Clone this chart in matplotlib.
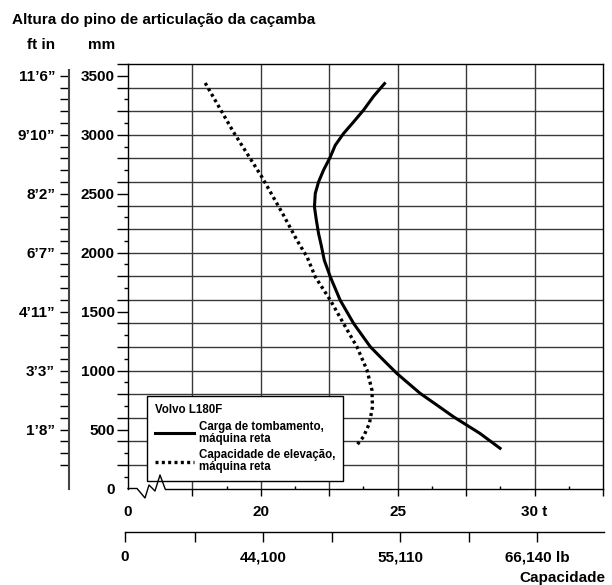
import matplotlib
matplotlib.use("Agg")
import matplotlib.pyplot as plt
from matplotlib.lines import Line2D

# Chart data
tipping_t = [24.52, 24.12, 23.75, 23.39, 23.02, 22.72, 22.54, 22.29, 22.11, 21.99,
             21.96, 22.03, 22.11, 22.21, 22.32, 22.54, 22.90, 23.39, 24.00, 24.48,
             24.97, 25.82, 26.43, 27.04, 28.00, 28.74]
tipping_mm = [3434, 3326, 3208, 3109, 3010, 2911, 2812, 2699, 2600, 2502,
              2388, 2275, 2163, 2060, 1936, 1795, 1597, 1400, 1202, 1089,
              976, 807, 708, 608, 468, 341]

lifting_t = [17.97, 19.00, 20.04, 20.83, 21.32, 21.69, 21.99, 22.54, 23.02,
             23.51, 23.88, 24.06, 24.08, 23.97, 23.75, 23.51]
lifting_mm = [3439, 3024, 2642, 2318, 2106, 1964, 1795, 1597, 1400,
              1202, 1004, 835, 693, 553, 439, 369]

series_labels = ['Carga de tombamento,\nmáquina reta',
                 'Capacidade de elevação,\nmáquina reta']
legend_title = 'Volvo L180F'

# axis ticks / labels
x_start = 15.15                      # broken axis start, labelled "0"
x_grid = [17.5, 20, 22.5, 25, 27.5, 30, 32.5]
x_labels = ['', '20', '', '25', '', '30 t', '']
x_minor = [18.75, 21.25, 23.75, 26.25, 28.75, 31.25]

lb_ticks = [32951, 38580, 44100, 49610, 55110, 60630, 66140]
lb_labels = ['0', '', '44,100', '', '55,110', '', '66,140 lb']

mm_grid = list(range(200, 3601, 200))
mm_labelled = [0, 500, 1000, 1500, 2000, 2500, 3000, 3500]
ft_labels = ['', '1’8”', '3’3”', '4’11”', '6’7”', '8’2”', '9’10”', '11’6”']

plt.rcParams['font.family'] = ['Liberation Sans', 'DejaVu Sans']
plt.rcParams['font.weight'] = 'bold'
plt.rcParams['font.size'] = 11

W, H = 612, 585
fig = plt.figure(figsize=(W / 100, H / 100), dpi=100)


def fx(px):
    return px / W


def fy(py):
    return 1 - py / H


GRID = '#3a3a3a'
FS = 11
bottom, top = 488.5, 64

# main plot
ax = fig.add_axes([fx(128), fy(bottom), fx(603) - fx(128), fy(top) - fy(bottom)])
ax.set_xlim(x_start, x_grid[-1])
ax.set_ylim(0, 3600)
for s in ax.spines.values():
    s.set_linewidth(1)
ax.spines['bottom'].set_bounds(16.5, x_grid[-1])

for v in x_grid[:-1]:
    ax.axvline(v, color=GRID, lw=1, zorder=1)
for h in mm_grid[:-1]:
    ax.axhline(h, color=GRID, lw=1, zorder=1)

ax.plot(tipping_t, tipping_mm, color='black', lw=2.2, zorder=3,
        label=series_labels[0])
ax.plot(lifting_t, lifting_mm, color='black', lw=2.4, linestyle=(0, (0.9, 1.0)),
        zorder=3, label=series_labels[1])

# y ticks (mm)
y_major = sorted(set(mm_grid) | set(mm_labelled))
ax.set_yticks(y_major)
ax.set_yticklabels([str(v) if v in mm_labelled else '' for v in y_major])
ax.set_yticks([v for v in range(100, 3501, 100) if v not in y_major], minor=True)
ax.tick_params(axis='y', which='major', length=8, width=1, pad=1.5, labelsize=FS)
ax.tick_params(axis='y', which='minor', length=3, width=1)
ax.yaxis.get_major_ticks()[0].tick1line.set_visible(False)

# x ticks (t)
ax.set_xticks([x_start] + x_grid)
ax.set_xticklabels(['0'] + x_labels)
ax.set_xticks(x_minor, minor=True)
ax.tick_params(axis='x', which='major', length=5, width=1, pad=7, labelsize=FS)
ax.tick_params(axis='x', which='minor', direction='in', length=2.5, width=1)
ax.xaxis.get_major_ticks()[0].tick1line.set_visible(False)

# zigzag axis break
zx = [128, 137, 145, 149, 155, 160, 165]
zy = [488.5, 488.5, 498, 485, 491, 475, 488.5]
fig.add_artist(Line2D([fx(x) for x in zx], [fy(y) for y in zy],
                      transform=fig.transFigure, color='black', lw=1))

# legend
leg = ax.legend(loc='upper left', bbox_to_anchor=(fx(147), fy(396)),
                bbox_transform=fig.transFigure, title=legend_title,
                alignment='left', fontsize=8.3,
                title_fontproperties={'weight': 'bold', 'size': 8.3},
                frameon=True, fancybox=False, edgecolor='black', framealpha=1,
                handlelength=3.4, handletextpad=0.4, labelspacing=0.4,
                borderpad=0.7, borderaxespad=0)
leg.get_frame().set_linewidth(1)
leg.set_zorder(5)
for t in leg.get_texts():
    t.set_linespacing(1.0)

# lb axis
ax2 = fig.add_axes([fx(125), fy(532), fx(604) - fx(125), 0.0005])
ax2.set_xlim(lb_ticks[0], 71537)
for k in ['top', 'left', 'right']:
    ax2.spines[k].set_visible(False)
ax2.spines['bottom'].set_linewidth(1)
ax2.set_yticks([])
ax2.set_xticks(lb_ticks)
ax2.set_xticklabels(lb_labels)
ax2.tick_params(axis='x', length=7, width=1, pad=6, labelsize=FS)
ax2.patch.set_visible(False)

# ft axis
ax3 = fig.add_axes([fx(69), fy(bottom), 0.0005, fy(top) - fy(bottom)])
ax3.set_ylim(0, 3600)
for k in ['top', 'bottom', 'right']:
    ax3.spines[k].set_visible(False)
ax3.spines['left'].set_linewidth(1.5)
ax3.spines['left'].set_color('#444444')
ax3.spines['left'].set_bounds(0, 3550)
ax3.set_xticks([])
ft_ticks = list(range(200, 3501, 100))
ax3.set_yticks(ft_ticks)
ax3.set_yticklabels([ft_labels[mm_labelled.index(v)] if v in mm_labelled else ''
                     for v in ft_ticks])
ax3.tick_params(axis='y', length=6.5, width=1, pad=3.5, labelsize=FS)
ax3.patch.set_visible(False)

# headers
fig.text(fx(12), fy(20), 'Altura do pino de articulação da caçamba',
         ha='left', va='center', fontsize=FS, weight='bold')
fig.text(fx(27), fy(45), 'ft in', ha='left', va='center', fontsize=FS, weight='bold')
fig.text(fx(88), fy(45), 'mm', ha='left', va='center', fontsize=FS, weight='bold')
fig.text(fx(605), fy(578), 'Capacidade', ha='right', va='center',
         fontsize=FS, weight='bold')

fig.savefig('out.png', dpi=100)
